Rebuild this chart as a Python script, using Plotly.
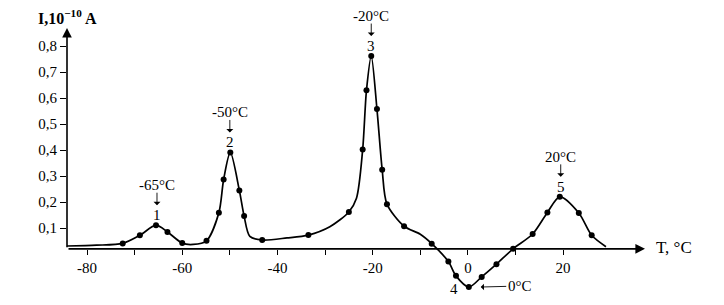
import plotly.graph_objects as go

# ---- data ----
marker_T = [-72.5, -68.9, -65.5, -63.1, -60.0, -54.9, -52.3, -51.3, -49.9, -48.0,
            -47.0, -43.2, -33.5, -25.0, -22.1, -21.3, -20.3, -19.1, -18.0, -17.0,
            -13.4, -7.6, -4.1, -2.5, 0.2, 2.9, 6.0, 9.5, 13.6, 16.7, 19.3, 23.3, 26.0]
marker_I = [0.041, 0.072, 0.111, 0.085, 0.042, 0.051, 0.159, 0.287, 0.391, 0.245,
            0.146, 0.054, 0.073, 0.162, 0.402, 0.630, 0.762, 0.558, 0.324, 0.192,
            0.107, 0.040, -0.029, -0.084, -0.127, -0.088, -0.039, 0.020, 0.077, 0.160,
            0.220, 0.158, 0.072]

# unmarked points of the drawn curve
extra_T = [-84.2, -78.0, -57.7, -45.8, -38.0, -29.0, -23.4, -10.0, 29.0]
extra_I = [0.031, 0.034, 0.037, 0.068, 0.062, 0.105, 0.215, 0.076, 0.028]

peak_labels = ["-65°C", "-50°C", "-20°C", "20°C"]
peak_T = [-65.3, -50, -20.3, 19.5]
peak_I = [0.111, 0.391, 0.762, 0.220]
peak_num = ["1", "2", "3", "5"]

min_T = 0.2
min_I = -0.127
min_num = "4"
min_label = "0°C"

x_ticks = [-80, -70, -60, -50, -40, -30, -20, -10, 0, 10, 20]
x_ticktext = ["-80", "", "-60", "", "-40", "", "-20", "", "0", "", "20"]
y_ticks = [0.1, 0.2, 0.3, 0.4, 0.5, 0.6, 0.7, 0.8]
y_ticktext = ["0,1", "0,2", "0,3", "0,4", "0,5", "0,6", "0,7", "0,8"]

X_MIN, X_MAX = -84.2, 37.2
Y_MIN, Y_MAX = -0.15, 0.87
AXIS_Y = 0.02

curve = sorted(zip(marker_T + extra_T, marker_I + extra_I))
curve_T = [c[0] for c in curve]
curve_I = [c[1] for c in curve]

FONT = "Liberation Serif, Times New Roman, serif"
TXT = dict(family=FONT, size=15, color="black")

fig = go.Figure()
fig.add_trace(go.Scatter(x=curve_T, y=curve_I, mode="lines",
                         line=dict(color="black", width=1.7, shape="spline", smoothing=0.8),
                         hoverinfo="skip", showlegend=False))
fig.add_trace(go.Scatter(x=marker_T, y=marker_I, mode="markers",
                         marker=dict(color="black", size=6, symbol="circle"),
                         showlegend=False))

annotations = []
# axis arrows
annotations.append(dict(x=X_MAX, y=AXIS_Y, ax=X_MIN, ay=AXIS_Y, xref="x", yref="y",
                        axref="x", ayref="y", text="", showarrow=True, arrowhead=2,
                        arrowsize=1.2, arrowwidth=1.6, arrowcolor="black"))
annotations.append(dict(x=X_MIN, y=Y_MAX, ax=X_MIN, ay=AXIS_Y, xref="x", yref="y",
                        axref="x", ayref="y", text="", showarrow=True, arrowhead=2,
                        arrowsize=1.2, arrowwidth=1.6, arrowcolor="black"))
# axis titles
annotations.append(dict(x=X_MIN, y=Y_MAX, xref="x", yref="y", xanchor="center", yanchor="bottom",
                        yshift=0, borderpad=0, text="<b>I,10<sup>−10</sup> A</b>", showarrow=False,
                        font=dict(family=FONT, size=16, color="black")))
annotations.append(dict(x=X_MAX, y=AXIS_Y, xref="x", yref="y", xanchor="left", yanchor="middle",
                        xshift=9, yshift=1, text="T, °C", showarrow=False,
                        font=dict(family=FONT, size=17, color="black")))
# peak labels: temperature, arrow, number
for t, i, lab, n in zip(peak_T, peak_I, peak_labels, peak_num):
    annotations.append(dict(x=t, y=i, xref="x", yref="y", xanchor="center", yanchor="middle",
                            yshift=40, borderpad=0, text=lab, showarrow=False, font=TXT))
    annotations.append(dict(x=t, y=i, xref="x", yref="y", yshift=20, ax=0, ay=-14,
                            text="", showarrow=True, arrowhead=1, arrowsize=1.3,
                            arrowwidth=0.9, arrowcolor="black"))
    annotations.append(dict(x=t, y=i, xref="x", yref="y", xanchor="center", yanchor="middle",
                            yshift=10, text=n, showarrow=False, font=TXT))
# minimum label
annotations.append(dict(x=min_T, y=min_I, xref="x", yref="y", xanchor="right", yanchor="middle",
                        xshift=-9, yshift=-2, text=min_num, showarrow=False, font=TXT))
annotations.append(dict(x=min_T + 2.5, y=min_I, xref="x", yref="y", ax=39, ay=-1,
                        text=min_label, showarrow=True, arrowhead=1, arrowsize=1.2,
                        arrowwidth=0.9, arrowcolor="black", font=TXT))

# the page body adds an 8px offset, so the figure is drawn 8px smaller
fig.update_layout(
    width=716, height=297,
    margin=dict(l=59, r=79, t=20, b=12),
    paper_bgcolor="white", plot_bgcolor="white",
    font=TXT,
    annotations=annotations,
    xaxis=dict(range=[X_MIN, X_MAX], tickvals=x_ticks, ticktext=x_ticktext,
               ticks="outside", ticklen=5, tickwidth=1, tickcolor="black",
               showline=False, showgrid=False, zeroline=False,
               anchor="free", position=(AXIS_Y - Y_MIN) / (Y_MAX - Y_MIN),
               tickfont=dict(family=FONT, size=15, color="black")),
    yaxis=dict(range=[Y_MIN, Y_MAX], tickvals=y_ticks, ticktext=y_ticktext,
               ticks="outside", ticklen=6, tickwidth=1, tickcolor="black",
               showline=False, showgrid=False, zeroline=False,
               tickfont=dict(family=FONT, size=15, color="black")),
)

fig.write_html("out.html")
